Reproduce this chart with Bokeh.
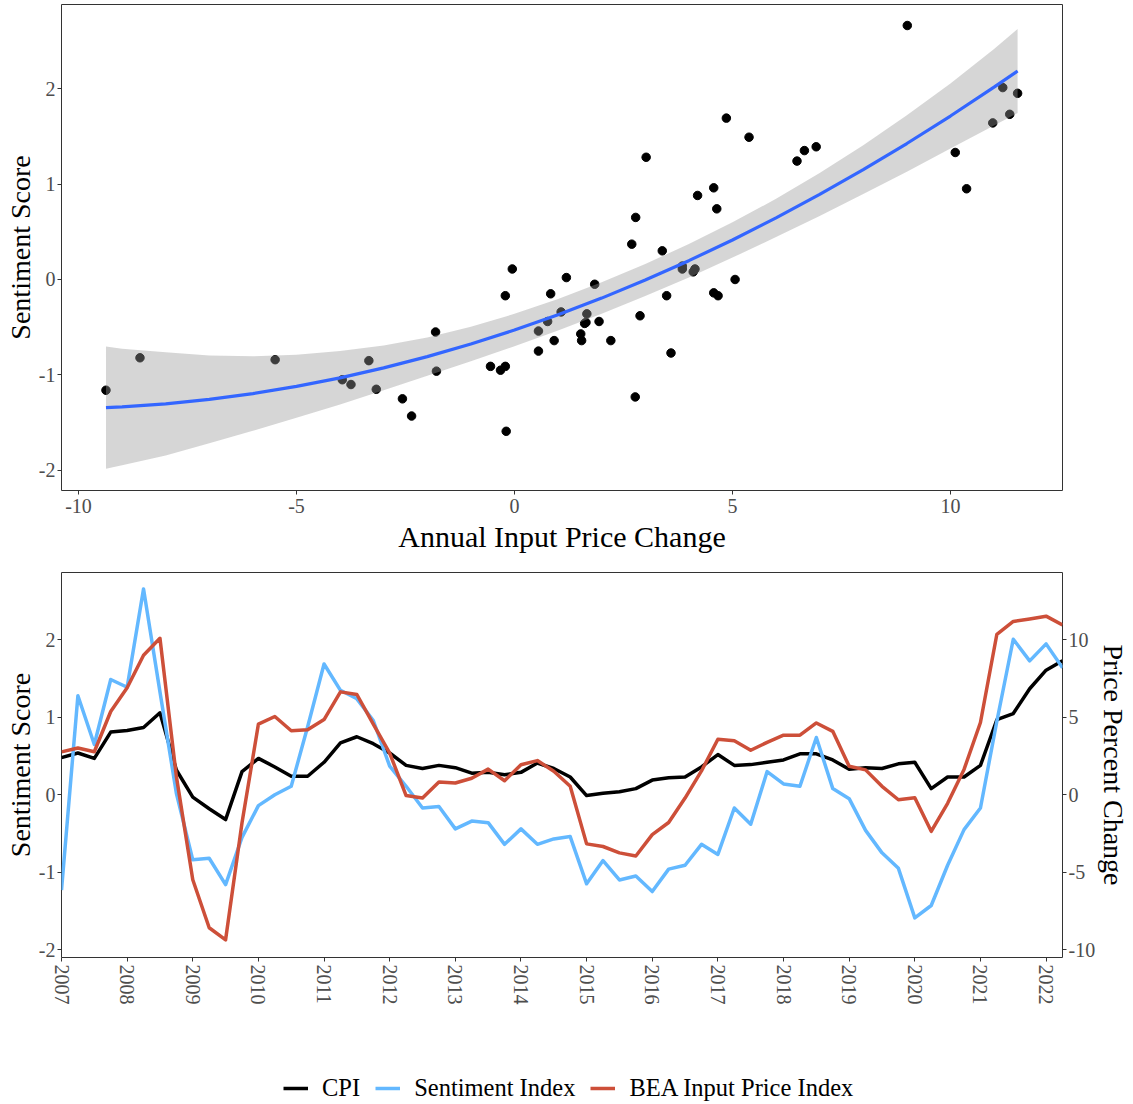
from bokeh.plotting import figure
from bokeh.models import Range1d, LinearAxis, FixedTicker, Legend, LegendItem
from bokeh.layouts import column
from bokeh.embed import file_html
from bokeh.resources import INLINE

FONT = "Liberation Serif"

# ---------------- data ----------------
quarter_labels = [f"{y}Q{q}" for y in range(2007, 2023) for q in range(1, 5)][:62]
quarter_pos = [int(s[:4]) + (int(s[5]) - 1) / 4 for s in quarter_labels]

sentiment = [-1.23, 1.28, 0.65, 1.49, 1.39, 2.66, 1.33, 0.02,
             -0.84, -0.82, -1.16, -0.55, -0.14, 0.00, 0.11, 0.88,
             1.69, 1.35, 1.24, 0.96, 0.37, 0.11, -0.17, -0.15,
             -0.44, -0.34, -0.36, -0.64, -0.44, -0.64, -0.57, -0.54,
             -1.15, -0.85, -1.10, -1.05, -1.25, -0.96, -0.91, -0.64,
             -0.77, -0.17, -0.38, 0.30, 0.14, 0.11, 0.74, 0.08,
             -0.05, -0.46, -0.75, -0.95, -1.59, -1.43, -0.91, -0.45,
             -0.17, 0.95, 2.01, 1.73, 1.95, 1.64]

bea_input_price = [2.77, 3.02, 2.78, 5.38, 6.92, 9.01, 10.11, 1.19,
                   -5.49, -8.59, -9.37, -1.81, 4.57, 5.06, 4.14, 4.20,
                   4.86, 6.65, 6.48, 4.57, 2.69, -0.05, -0.21, 0.83,
                   0.76, 1.07, 1.66, 0.91, 1.94, 2.21, 1.52, 0.55,
                   -3.17, -3.34, -3.75, -3.95, -2.57, -1.79, -0.21, 1.54,
                   3.59, 3.49, 2.88, 3.39, 3.85, 3.85, 4.64, 4.10,
                   1.84, 1.61, 0.55, -0.32, -0.19, -2.36, -0.55, 1.64,
                   4.67, 10.37, 11.20, 11.36, 11.54, 10.97]

cpi = [2.40, 2.70, 2.35, 4.05, 4.15, 4.35, 5.30, 1.60,
       -0.15, -0.90, -1.60, 1.50, 2.35, 1.80, 1.20, 1.20,
       2.10, 3.35, 3.75, 3.30, 2.70, 1.90, 1.70, 1.90,
       1.75, 1.40, 1.45, 1.30, 1.45, 2.05, 1.70, 1.15,
       -0.05, 0.10, 0.20, 0.40, 0.95, 1.10, 1.15, 1.80,
       2.60, 1.90, 1.95, 2.10, 2.25, 2.65, 2.65, 2.25,
       1.65, 1.75, 1.70, 2.00, 2.10, 0.40, 1.15, 1.15,
       1.90, 4.85, 5.25, 6.85, 8.05, 8.65]

# smooth (quadratic fit) and its confidence band
fit_x = [-9.37, -9, -8, -7, -6, -5, -4, -3, -2, -1, 0, 1, 2, 3, 4, 5, 6, 7, 8, 9, 10, 11, 11.54]
fit_y = [-1.343, -1.335, -1.303, -1.256, -1.195, -1.119, -1.030, -0.926, -0.808, -0.676,
         -0.530, -0.370, -0.195, -0.006, 0.197, 0.414, 0.645, 0.891, 1.150, 1.424,
         1.712, 2.014, 2.183]
fit_hi = [-0.703, -0.725, -0.763, -0.796, -0.805, -0.789, -0.750, -0.691, -0.608, -0.496,
          -0.360, -0.205, -0.030, 0.162, 0.372, 0.599, 0.845, 1.116, 1.405, 1.719,
          2.052, 2.414, 2.623]
fit_lo = [-1.983, -1.945, -1.843, -1.716, -1.585, -1.449, -1.310, -1.161, -1.008, -0.856,
          -0.700, -0.535, -0.360, -0.174, 0.022, 0.229, 0.445, 0.666, 0.895, 1.129,
          1.372, 1.614, 1.743]

scatter_x_ticks = [-10, -5, 0, 5, 10]
score_ticks = [-2, -1, 0, 1, 2]
year_ticks = list(range(2007, 2023))
price_ticks = [-10, -5, 0, 5, 10]

series_names = ["CPI", "Sentiment Index", "BEA Input Price Index"]
series_colors = ["black", "#63B8FF", "#CD4F39"]


def hyphen_labels(ticks):
    return {t: str(t) for t in ticks if t < 0}


def style_axis(ax, ticks, title_size="28px", label_size="20px"):
    ax.ticker = FixedTicker(ticks=ticks)
    ax.major_label_overrides = hyphen_labels(ticks)
    ax.axis_line_color = None
    ax.major_tick_line_color = "#333333"
    ax.major_tick_line_width = 1
    ax.major_tick_out = 4
    ax.major_tick_in = 0
    ax.minor_tick_line_color = None
    ax.major_label_text_font = FONT
    ax.major_label_text_font_size = label_size
    ax.major_label_text_color = "#4D4D4D"
    ax.axis_label_text_font = FONT
    ax.axis_label_text_font_size = title_size
    ax.axis_label_text_font_style = "normal"
    ax.axis_label_text_color = "black"
    ax.major_label_standoff = 2
    ax.axis_label_standoff = 0


# ---------------- top: scatter ----------------
p1 = figure(width=1133, height=556, output_backend="svg", toolbar_location=None,
            x_range=Range1d(-10.39, 12.57), y_range=Range1d(-2.21, 2.88),
            min_border_left=61, min_border_right=71, min_border_top=4, min_border_bottom=66)
p1.grid.visible = False
p1.outline_line_color = "#333333"
p1.outline_line_width = 1

p1.scatter(x=bea_input_price, y=sentiment, size=8.5, fill_color="black", line_color="black")
p1.varea(x=fit_x, y1=fit_lo, y2=fit_hi, fill_color="#999999", fill_alpha=0.4)
p1.line(x=fit_x, y=fit_y, line_color="#3366FF", line_width=3.2)

p1.xaxis.axis_label = "Annual Input Price Change"
p1.yaxis.axis_label = "Sentiment Score"
for ax in p1.xaxis:
    style_axis(ax, scatter_x_ticks, title_size="30px")
    ax.major_label_standoff = 4
    ax.axis_label_standoff = 4
for ax in p1.yaxis:
    style_axis(ax, score_ticks)

# ---------------- bottom: time series ----------------
p2 = figure(width=1133, height=484, output_backend="svg", toolbar_location=None,
            x_range=Range1d(2007.0, 2022.25), y_range=Range1d(-2.102, 2.872),
            min_border_left=61, min_border_right=71, min_border_top=16, min_border_bottom=83)
p2.grid.visible = False
p2.outline_line_color = "#333333"
p2.outline_line_width = 1
p2.extra_y_ranges = {"price": Range1d(-2.102 * 5, 2.872 * 5)}

p2.line(x=quarter_pos, y=cpi, y_range_name="price", line_color=series_colors[0],
        line_width=3.5, line_join="round")
p2.line(x=quarter_pos, y=sentiment, line_color=series_colors[1],
        line_width=3.5, line_join="round")
p2.line(x=quarter_pos, y=bea_input_price, y_range_name="price", line_color=series_colors[2],
        line_width=3.5, line_join="round")

for ax in p2.xaxis:
    style_axis(ax, year_ticks)
    ax.major_label_orientation = "vertical"
    ax.major_label_standoff = 3
p2.yaxis.axis_label = "Sentiment Score"
for ax in p2.yaxis:
    style_axis(ax, score_ticks)
right_ax = LinearAxis(y_range_name="price", axis_label="Price Percent Change")
style_axis(right_ax, price_ticks)
p2.add_layout(right_ax, "right")

# ---------------- legend strip (keys drawn from the same series, out of view) ----------------
p3 = figure(width=1133, height=64, output_backend="svg", toolbar_location=None,
            x_range=Range1d(0, 1), y_range=Range1d(0, 1),
            min_border_left=61, min_border_right=71, min_border_top=0, min_border_bottom=0)
p3.axis.visible = False
p3.grid.visible = False
p3.outline_line_color = None
series_values = [cpi, sentiment, bea_input_price]
keys = [p3.line(x=quarter_pos, y=v, line_color=c, line_width=3.5)
        for v, c in zip(series_values, series_colors)]
legend = Legend(items=[LegendItem(label=n, renderers=[r]) for n, r in zip(series_names, keys)],
                orientation="horizontal", location=(222, 2),
                glyph_width=25, glyph_height=20, label_standoff=14, spacing=15,
                padding=0, margin=0, border_line_color=None, background_fill_alpha=0,
                label_text_font=FONT, label_text_font_size="24.5px", label_text_color="black")
p3.add_layout(legend, "center")

layout = column(p1, p2, p3, spacing=0)
open("out.html", "w").write(file_html(layout, INLINE))
